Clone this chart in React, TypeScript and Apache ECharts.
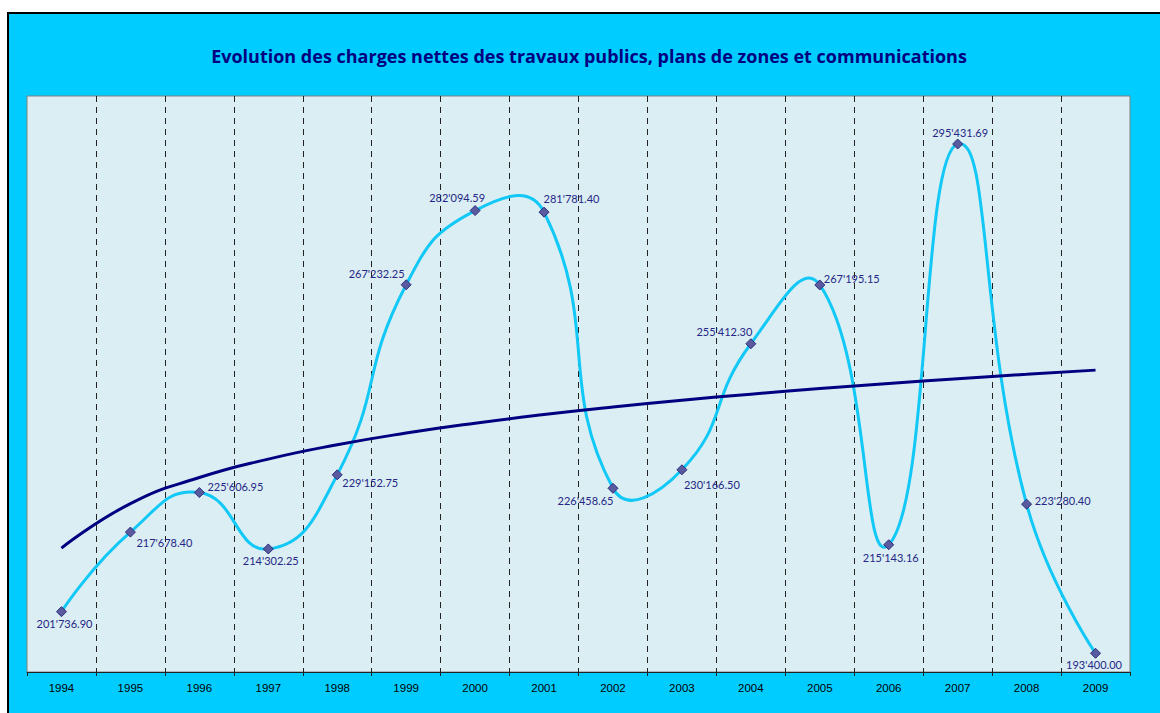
import React, { useEffect, useRef } from 'react';
import * as echarts from 'echarts';

const years = ['1994', '1995', '1996', '1997', '1998', '1999', '2000', '2001', '2002', '2003', '2004', '2005', '2006', '2007', '2008', '2009'];
const charges = [201736.90, 217678.40, 225606.95, 214302.25, 229152.75, 267232.25, 282094.59, 281781.40, 226458.65, 230166.50, 255412.30, 267195.15, 215143.16, 295431.69, 223280.40, 193400.00];
// logarithmic trend line values
const trend = [214483, 223394, 228608, 232307, 235175, 237520, 239501, 241218, 242733, 244088, 245313, 246431, 247460, 248414, 249301, 250130];

// label offsets (dx, dy) from the marker centre
const labelOffsets: [number, number][] = [
  [3, 12], [34, 10], [36, -6], [2.5, 12], [33, 8], [-29.5, -11.5], [-18, -13], [27.5, -14],
  [-27.5, 12], [30, 15], [-26.5, -12.5], [32, -6], [2, 13], [2.5, -12], [36, -3.5], [-1.5, 11],
];

const fmt = (v: number) => {
  const [i, d] = v.toFixed(2).split('.');
  return i.replace(/\B(?=(\d{3})+(?!\d))/g, "'") + '.' + d;
};

// Bezier smoothing (unclamped, like a spreadsheet's smoothed line)
function smoothPath(pts: number[][], smooth: number) {
  const n = pts.length;
  const cpPrev: number[][] = [];
  const cpNext: number[][] = [];
  for (let i = 0; i < n; i++) {
    const p = pts[i];
    if (i === 0 || i === n - 1) {
      cpPrev[i] = p;
      cpNext[i] = p;
      continue;
    }
    const prev = pts[i - 1];
    const next = pts[i + 1];
    const vx = next[0] - prev[0];
    const vy = next[1] - prev[1];
    const l0 = Math.hypot(p[0] - prev[0], p[1] - prev[1]);
    const l1 = Math.hypot(next[0] - p[0], next[1] - p[1]);
    const r = l1 / (l0 + l1);
    cpPrev[i] = [p[0] - vx * smooth * (1 - r), p[1] - vy * smooth * (1 - r)];
    cpNext[i] = [p[0] + vx * smooth * r, p[1] + vy * smooth * r];
  }
  let d = `M${pts[0][0]},${pts[0][1]}`;
  for (let i = 0; i < n - 1; i++) {
    const a = cpNext[i];
    const b = cpPrev[i + 1];
    const c = pts[i + 1];
    d += ` C${a[0]},${a[1]} ${b[0]},${b[1]} ${c[0]},${c[1]}`;
  }
  return d;
}

export default function App() {
  const ref = useRef<HTMLDivElement>(null);
  useEffect(() => {
    const chart = echarts.init(ref.current!, null, { renderer: 'svg' });
    chart.setOption({
      animation: false,
      title: {
        text: 'Evolution des charges nettes des travaux publics, plans de zones et communications',
        left: 'center',
        top: 28,
        textStyle: { fontFamily: 'Open Sans', fontWeight: 'bold', fontSize: 18, color: '#000080' },
      },
      grid: {
        left: 18, top: 82, width: 1103, height: 576,
        show: true, backgroundColor: '#DAEEF3', borderColor: '#808080', borderWidth: 1,
      },
      xAxis: {
        type: 'category',
        data: years,
        boundaryGap: true,
        axisLine: { show: true, lineStyle: { color: '#222', width: 1 } },
        axisTick: { show: true, length: 4, lineStyle: { color: '#222' } },
        axisLabel: { color: '#000', fontFamily: 'Liberation Sans', fontSize: 11.5, margin: 10 },
        splitLine: {
          show: true, showMinLine: false, showMaxLine: false,
          lineStyle: { color: '#222', width: 1, type: [6, 5] },
        },
      },
      yAxis: {
        type: 'value', min: 189650, max: 305050, show: false,
        splitLine: { show: false },
      },
      series: [
        {
          type: 'custom',
          data: charges.map((v, i) => [i, v]),
          z: 2,
          silent: true,
          renderItem: (params: any, api: any) => {
            if (params.dataIndex !== 0) return null;
            const pts = charges.map((v, i) => api.coord([i, v]));
            return {
              type: 'path',
              shape: { pathData: smoothPath(pts, 0.5) },
              style: { fill: 'none', stroke: '#12C8F6', lineWidth: 3 },
            };
          },
        },
        {
          type: 'line',
          data: trend,
          smooth: true,
          symbol: 'none',
          lineStyle: { color: '#000080', width: 3 },
          z: 3,
          silent: true,
        },
        {
          type: 'line',
          data: charges.map((v, i) => ({
            value: v,
            label: { offset: labelOffsets[i] },
          })),
          symbol: 'diamond',
          symbolSize: 10,
          lineStyle: { opacity: 0 },
          itemStyle: { color: '#5A5A9E', borderColor: '#2E2E80', borderWidth: 1 },
          label: {
            show: true,
            position: 'inside',
            formatter: (p: any) => fmt(p.value),
            fontFamily: 'Lato',
            fontSize: 11,
            color: '#262686',
          },
          z: 4,
        },
      ],
    });
    return () => chart.dispose();
  }, []);
  return (
    <div style={{ position: 'fixed', left: 0, top: 0, width: 1160, height: 713, background: '#fff', overflow: 'hidden' }}>
      <div style={{ position: 'absolute', left: 7, top: 12, width: 1160, height: 710, border: '2px solid #000', background: '#00CCFF' }}>
        <div ref={ref} style={{ width: 1160, height: 710 }} />
      </div>
    </div>
  );
}
